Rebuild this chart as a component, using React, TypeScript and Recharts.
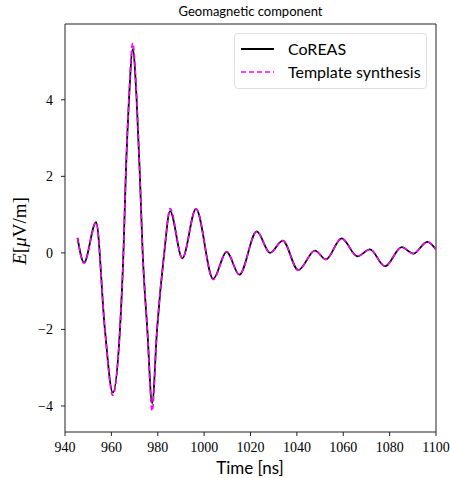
import {
  LineChart,
  Line,
  XAxis,
  YAxis,
  Legend,
  Label,
  ReferenceLine,
} from "recharts";

// time [ns] and field strength [uV/m]
const times = [
  945.4, 948.2, 953.4, 957.2, 960.6, 963.7, 965.2, 966.2, 967.6, 969.2, 970.9,
  972.3, 973.5, 975.5, 977.6, 979.7, 982.8, 985.3, 990.6, 996.5, 1003.9,
  1009.7, 1015.2, 1022.7, 1028.4, 1033.9, 1040.6, 1047.8, 1052.5, 1059.3,
  1066.1, 1071.5, 1078.0, 1085.2, 1090.2, 1096.2, 1100,
];
const coreas = [
  0.39, -0.25, 0.8, -2.0, -3.65, -2.0, 0.0, 2.0, 4.0, 5.32, 4.0, 2.0, 0.0,
  -2.0, -3.93, -2.0, 0.0, 1.09, -0.14, 1.15, -0.68, 0.03, -0.57, 0.56, 0.0,
  0.32, -0.45, 0.06, -0.17, 0.38, -0.09, 0.09, -0.35, 0.15, -0.02, 0.29, 0.09,
];
const template = [
  0.39, -0.27, 0.8, -2.0, -3.72, -2.0, 0.0, 2.0, 4.1, 5.48, 4.1, 2.0, 0.0,
  -2.0, -4.13, -2.0, 0.0, 1.16, -0.14, 1.15, -0.7, 0.03, -0.57, 0.56, 0.0,
  0.32, -0.45, 0.06, -0.17, 0.38, -0.09, 0.09, -0.35, 0.15, -0.02, 0.29, 0.09,
];
const xTicks = [940, 960, 980, 1000, 1020, 1040, 1060, 1080, 1100];
const yTicks = [-4, -2, 0, 2, 4];
const xDomain = [940, 1100];
const yDomain = [-4.68, 5.98];

const data = times.map((t, i) => ({
  t,
  coreas: coreas[i],
  template: template[i],
}));

const fmt = (v: number) => (v < 0 ? `\u2212${Math.abs(v)}` : `${v}`);

const tickStyle = { fontFamily: "Liberation Serif", fontSize: 14, fill: "#000" };
const axisColor = "#222";

const LegendBox = () => (
  <div
    style={{
      border: "1px solid #e0e0e0",
      borderRadius: 4,
      background: "rgba(255,255,255,0.8)",
      padding: "3px 10px 5px 6px",
      fontFamily: "Lato",
      fontSize: 16,
      color: "#000",
      whiteSpace: "nowrap",
      width: 175,
    }}
  >
    <div style={{ display: "flex", alignItems: "center", height: 23 }}>
      <svg width={33} height={4} style={{ marginRight: 14, flex: "none" }}>
        <line x1={0} y1={2} x2={33} y2={2} stroke="#000" strokeWidth={1.8} />
      </svg>
      <span>CoREAS</span>
    </div>
    <div style={{ display: "flex", alignItems: "center", height: 23 }}>
      <svg width={33} height={4} style={{ marginRight: 14, flex: "none" }}>
        <line
          x1={0}
          y1={2}
          x2={33}
          y2={2}
          stroke="#ff00ff"
          strokeWidth={1.6}
          strokeDasharray="5 3"
        />
      </svg>
      <span>Template synthesis</span>
    </div>
  </div>
);

export default function App() {
  return (
    <div style={{ position: "absolute", left: 0, top: 0, width: 450, height: 478 }}>
      <div
        style={{
          position: "absolute",
          left: 65,
          top: 3,
          width: 371,
          textAlign: "center",
          fontFamily: "Lato",
          fontSize: 13,
          color: "#000",
        }}
      >
        Geomagnetic component
      </div>
      <LineChart
        width={450}
        height={478}
        data={data}
        margin={{ top: 24, right: 14, bottom: 0, left: 0 }}
      >
        <XAxis
          dataKey="t"
          type="number"
          domain={xDomain}
          ticks={xTicks}
          allowDataOverflow
          height={46}
          tick={tickStyle}
          tickSize={4}
          tickMargin={6}
          stroke={axisColor}
          tickLine={{ stroke: axisColor }}
        >
          <Label
            content={() => (
              <text
                x={250}
                y={474}
                textAnchor="middle"
                fontFamily="Lato"
                fontSize={17}
                fill="#000"
              >
                Time [ns]
              </text>
            )}
          />
        </XAxis>
        <YAxis
          type="number"
          domain={yDomain}
          ticks={yTicks}
          allowDataOverflow
          width={65}
          tick={tickStyle}
          tickFormatter={fmt}
          tickSize={4}
          tickMargin={8}
          stroke={axisColor}
          tickLine={{ stroke: axisColor }}
        >
          <Label
            content={() => (
              <text
                x={26}
                y={231}
                textAnchor="middle"
                transform="rotate(-90 26 231)"
                fontFamily="Liberation Serif"
                fontSize={19}
                fill="#000"
              >
                <tspan fontStyle="italic">E</tspan>
                <tspan>[</tspan>
                <tspan fontStyle="italic">μ</tspan>
                <tspan>V/m]</tspan>
              </text>
            )}
          />
        </YAxis>
        <ReferenceLine y={yDomain[1]} stroke={axisColor} strokeWidth={1} />
        <ReferenceLine x={xDomain[1]} stroke={axisColor} strokeWidth={1} />
        <Legend
          layout="vertical"
          align="center"
          verticalAlign="middle"
          wrapperStyle={{ top: 33, left: 234, width: "auto" }}
          content={() => <LegendBox />}
        />
        <Line
          type="monotone"
          dataKey="coreas"
          stroke="#000"
          strokeWidth={1.8}
          dot={false}
          isAnimationActive={false}
        />
        <Line
          type="monotone"
          dataKey="template"
          stroke="#ff00ff"
          strokeWidth={1.6}
          strokeDasharray="5 3"
          dot={false}
          isAnimationActive={false}
        />
      </LineChart>
    </div>
  );
}
